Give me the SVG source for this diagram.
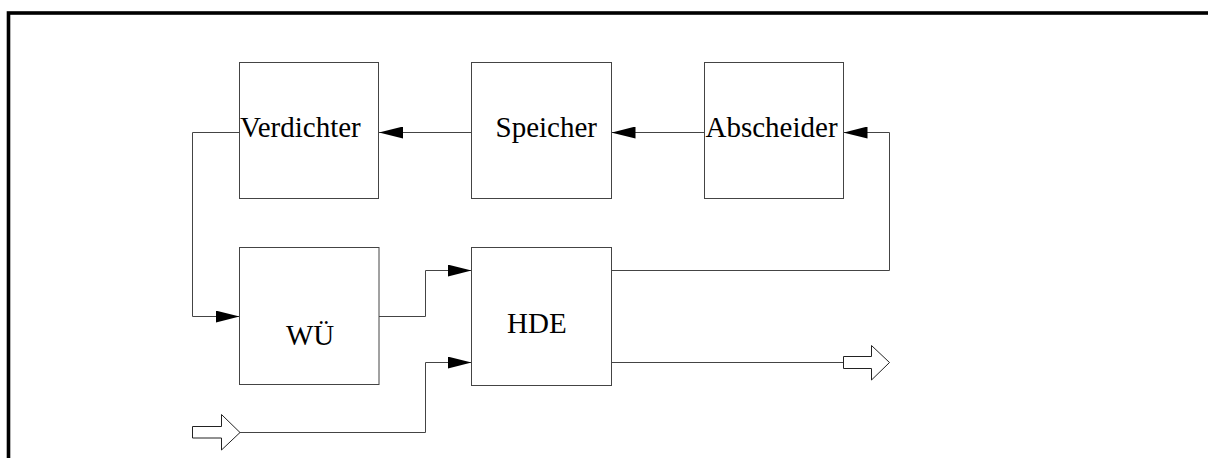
<svg xmlns="http://www.w3.org/2000/svg" width="1208" height="458" viewBox="0 0 1208 458">
<defs>
<style>
.box{fill:#fff;stroke:#444;stroke-width:1}
.ln{fill:none;stroke:#444;stroke-width:1}
.hollow{fill:#fff;stroke:#222;stroke-width:1}
.lbl{font-family:"Liberation Serif","Times New Roman",serif;font-size:29px;fill:#000}
</style>
<marker id="ah" viewBox="0 0 24 12" refX="24" refY="6" markerWidth="24" markerHeight="12" markerUnits="userSpaceOnUse" orient="auto">
<path d="M0,0 L24,6 L0,12 Z" fill="#000"/>
</marker>
</defs>
<rect width="1208" height="458" fill="#fff"/>
<rect x="8.5" y="13" width="1300" height="600" fill="none" stroke="#000" stroke-width="3.6"/>
<g id="connectors">
<path class="ln" d="M471.5,132.5 H379" marker-end="url(#ah)"/>
<path class="ln" d="M704.5,132.5 H611.5" marker-end="url(#ah)"/>
<path class="ln" d="M611.5,270.5 H889.5 V132.5 H843.5" marker-end="url(#ah)"/>
<path class="ln" d="M239.5,132.5 H192.5 V316.5 H239.5" marker-end="url(#ah)"/>
<path class="ln" d="M379,316.5 H425.5 V270.5 H471.5" marker-end="url(#ah)"/>
<path class="ln" d="M240,432.5 H425.5 V362.5 H471.5" marker-end="url(#ah)"/>
<path class="ln" d="M611.5,362.5 H843.5"/>
<polygon class="hollow" points="192.5,426.5 221.5,426.5 221.5,414.5 240,432.5 221.5,450 221.5,438 192.5,438"/>
<polygon class="hollow" points="843.5,356.5 871.5,356.5 871.5,345.5 889.5,362.5 871.5,380 871.5,368.5 843.5,368.5"/>
</g>
<g id="verdichter">
<rect class="box" x="239.5" y="62.5" width="139" height="136"/>
<text class="lbl" x="240" y="137">Verdichter</text>
</g>
<g id="speicher">
<rect class="box" x="471.5" y="62.5" width="140" height="136"/>
<text class="lbl" x="495.5" y="137">Speicher</text>
</g>
<g id="abscheider">
<rect class="box" x="704.5" y="62.5" width="139" height="136"/>
<text class="lbl" x="705.5" y="136.5">Abscheider</text>
</g>
<g id="wue">
<rect class="box" x="239.5" y="247.5" width="139.5" height="137"/>
<text class="lbl" x="286" y="345">WÜ</text>
</g>
<g id="hde">
<rect class="box" x="471.5" y="247.5" width="140" height="138"/>
<text class="lbl" x="507" y="332.5">HDE</text>
</g>
</svg>
